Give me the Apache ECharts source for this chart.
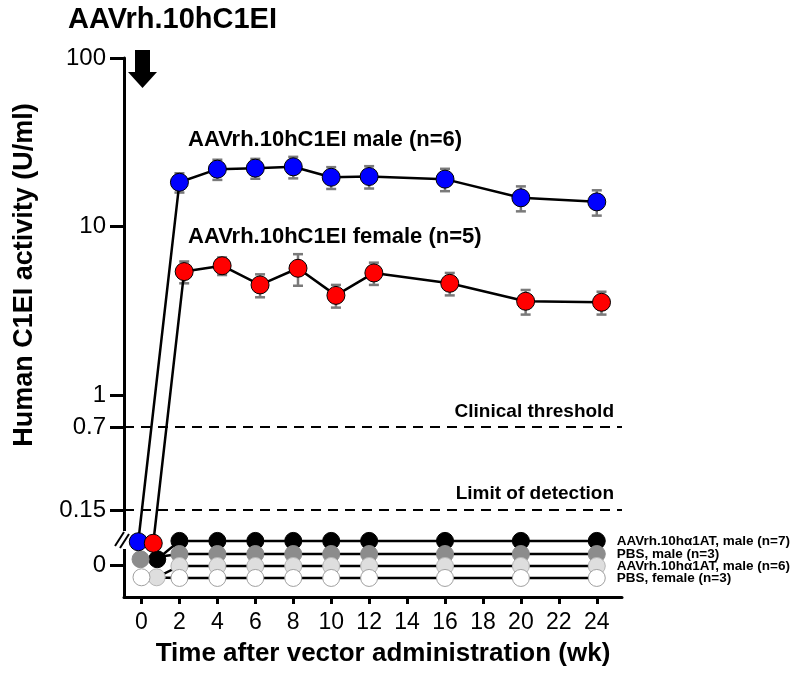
<!DOCTYPE html>
<html>
<head>
    <meta charset="utf-8">
    <title>AAVrh.10hC1EI</title>
    <script src="https://cdn.jsdelivr.net/npm/echarts@6/dist/echarts.min.js"></script>
</head>
<body style="margin:0">
    <div id="main" style="width:800px;height:675px"></div>
    <script type="text/javascript">
        // data (U/ml, mean and SEM)
        var weeks = [0, 2, 4, 6, 8, 10, 12, 16, 20, 24];
        var maleC1EI = [0, 18.3, 21.9, 22.2, 22.6, 19.6, 19.8, 19.1, 14.8, 14.0];
        var maleSem = [0, 2.4, 3.0, 3.0, 3.3, 2.9, 3.0, 2.9, 2.5, 2.4];
        var femaleC1EI = [0, 5.4, 5.85, 4.5, 5.65, 3.9, 5.3, 4.6, 3.6, 3.55];
        var femaleSem = [0, 0.8, 0.7, 0.7, 1.2, 0.6, 0.8, 0.7, 0.6, 0.55];
        var a1atMale7 = [0, 0, 0, 0, 0, 0, 0, 0, 0, 0];
        var pbsMale3 = [0, 0, 0, 0, 0, 0, 0, 0, 0, 0];
        var a1atMale6 = [0, 0, 0, 0, 0, 0, 0, 0, 0, 0];
        var pbsFemale3 = [0, 0, 0, 0, 0, 0, 0, 0, 0, 0];
        var yTickValues = [100, 10, 1, 0.7, 0.15, 0];
        var xTickValues = [0, 2, 4, 6, 8, 10, 12, 14, 16, 18, 20, 22, 24];
        var clinicalThreshold = 0.7;
        var detectionLimit = 0.15;

        var FONT = '"Liberation Sans", Arial, Helvetica, sans-serif';

        // y axis: log10 above 1, compressed below 1, then a broken "0" band
        var belowOne = [[1, 0], [0.7, -0.19], [0.15, -0.682]];
        var zeroTick = -1.009;
        function toAxis(v, zeroRow) {
            if (v === 0) return zeroRow;
            if (v >= 1) return Math.log10(v);
            for (var i = 0; i < belowOne.length - 1; i++) {
                var a = belowOne[i], b = belowOne[i + 1];
                if (v <= a[0] && v >= b[0]) {
                    var t = (Math.log10(a[0]) - Math.log10(v)) / (Math.log10(a[0]) - Math.log10(b[0]));
                    return a[1] + t * (b[1] - a[1]);
                }
            }
            return belowOne[belowOne.length - 1][1];
        }
        var yTickAxis = yTickValues.map(function (v) { return toAxis(v, zeroTick); });

        var myChart = echarts.init(document.getElementById('main'));

        function mainPoints(values, shift, jitter0, row0) {
            return weeks.map(function (w, i) {
                return [w + (i === 0 ? jitter0 : shift), toAxis(values[i], row0)];
            });
        }
        function errPoints(values, sem, shift) {
            var out = [];
            weeks.forEach(function (w, i) {
                if (values[i] > 0) {
                    out.push([w + shift, toAxis(values[i] - sem[i]), toAxis(values[i] + sem[i])]);
                }
            });
            return out;
        }

        var zeroGroups = [
            { name: 'AAVrh.10h\u03b11AT, male (n=7)', data: a1atMale7, color: '#000000', border: '#000000', row: -0.866, row0: -0.975, jitter0: 0.83 },
            { name: 'PBS, male (n=3)', data: pbsMale3, color: '#8c8c8c', border: '#8c8c8c', row: -0.944, row0: -0.975, jitter0: -0.05 },
            { name: 'AAVrh.10h\u03b11AT, male (n=6)', data: a1atMale6, color: '#dedede', border: '#b5b5b5', row: -1.015, row0: -1.082, jitter0: 0.8 },
            { name: 'PBS, female (n=3)', data: pbsFemale3, color: '#ffffff', border: '#a0a0a0', row: -1.086, row0: -1.082, jitter0: 0.0 }
        ];

        function errorBarSeries(data) {
            return {
                type: 'custom',
                z: 1,
                silent: true,
                encode: { x: 0, y: [1, 2] },
                data: data,
                renderItem: function (params, api) {
                    var lo = api.coord([api.value(0), api.value(1)]);
                    var hi = api.coord([api.value(0), api.value(2)]);
                    var c = 5;
                    var st = { stroke: '#7a7a7a', lineWidth: 2.5 };
                    return {
                        type: 'group',
                        children: [
                            { type: 'line', shape: { x1: lo[0], y1: lo[1], x2: hi[0], y2: hi[1] }, style: st },
                            { type: 'line', shape: { x1: lo[0] - c, y1: lo[1], x2: lo[0] + c, y2: lo[1] }, style: st },
                            { type: 'line', shape: { x1: hi[0] - c, y1: hi[1], x2: hi[0] + c, y2: hi[1] }, style: st }
                        ]
                    };
                }
            };
        }

        var series = [];
        zeroGroups.forEach(function (g) {
            series.push({
                name: g.name,
                type: 'line',
                data: weeks.map(function (w, i) {
                    return [w + (i === 0 ? g.jitter0 : 0), toAxis(g.data[i], i === 0 ? g.row0 : g.row)];
                }),
                symbol: 'circle',
                symbolSize: 17,
                lineStyle: { color: '#000', width: 2.5 },
                itemStyle: { color: g.color, borderColor: g.border, borderWidth: 1 },
                endLabel: {
                    show: true,
                    formatter: g.name,
                    distance: 20,
                    fontFamily: FONT,
                    fontSize: 13.5,
                    fontWeight: 'bold',
                    color: '#000'
                }
            });
        });

        series.push(errorBarSeries(errPoints(maleC1EI, maleSem, 0)));
        series.push(errorBarSeries(errPoints(femaleC1EI, femaleSem, 0.25)));

        series.push({
            name: 'AAVrh.10hC1EI male (n=6)',
            type: 'line',
            data: mainPoints(maleC1EI, 0, -0.17, -0.871),
            symbol: 'circle',
            symbolSize: 18,
            lineStyle: { color: '#000', width: 2.5 },
            itemStyle: { color: '#0000ff', borderColor: '#000', borderWidth: 1 },
            markLine: {
                silent: true,
                symbol: 'none',
                lineStyle: { color: '#000', type: [10, 7], width: 2 },
                label: {
                    position: 'insideEndTop',
                    distance: [8, 6],
                    fontFamily: FONT,
                    fontSize: 19,
                    fontWeight: 'bold',
                    color: '#000'
                },
                data: [
                    { yAxis: toAxis(clinicalThreshold), label: { formatter: 'Clinical threshold' } },
                    { yAxis: toAxis(detectionLimit), label: { formatter: 'Limit of detection' } }
                ]
            }
        });
        series.push({
            name: 'AAVrh.10hC1EI female (n=5)',
            type: 'line',
            data: mainPoints(femaleC1EI, 0.25, 0.62, -0.88),
            symbol: 'circle',
            symbolSize: 18,
            lineStyle: { color: '#000', width: 2.5 },
            itemStyle: { color: '#ff0000', borderColor: '#000', borderWidth: 1 }
        });

        var option = {
            animation: false,
            backgroundColor: '#fff',
            textStyle: { fontFamily: FONT },
            grid: { left: 124, right: 178, top: 58, bottom: 78 },
            xAxis: {
                type: 'value',
                min: -0.922,
                max: 25.33,
                splitLine: { show: false },
                axisLine: { onZero: false, lineStyle: { color: '#000', width: 3 } },
                axisTick: { customValues: xTickValues, length: 7, lineStyle: { color: '#000', width: 3 } },
                axisLabel: { customValues: xTickValues, margin: 14, fontSize: 23, color: '#000', fontFamily: FONT }
            },
            yAxis: {
                type: 'value',
                min: -1.199,
                max: 2,
                splitLine: { show: false },
                axisLine: { show: true, onZero: false, lineStyle: { color: '#000', width: 3 } },
                axisTick: { show: true, customValues: yTickAxis, length: 14, lineStyle: { color: '#000', width: 3 } },
                axisLabel: {
                    customValues: yTickAxis,
                    margin: 18,
                    fontSize: 24,
                    color: '#000',
                    fontFamily: FONT,
                    formatter: function (val) {
                        var best = 0;
                        yTickAxis.forEach(function (u, i) {
                            if (Math.abs(u - val) < Math.abs(yTickAxis[best] - val)) best = i;
                        });
                        return String(yTickValues[best]);
                    }
                }
            },
            graphic: [
                { type: 'text', left: 68, top: 5, style: { text: 'AAVrh.10hC1EI', font: 'bold 29px ' + FONT, fill: '#000' } },
                { type: 'text', x: 188, y: 140, style: { text: 'AAVrh.10hC1EI male (n=6)', font: 'bold 22px ' + FONT, fill: '#000', verticalAlign: 'middle' } },
                { type: 'text', x: 188, y: 237, style: { text: 'AAVrh.10hC1EI female (n=5)', font: 'bold 22px ' + FONT, fill: '#000', verticalAlign: 'middle' } },
                { type: 'text', x: 383, y: 654, style: { text: 'Time after vector administration (wk)', font: 'bold 26px ' + FONT, fill: '#000', align: 'center', verticalAlign: 'middle' } },
                { type: 'text', x: 25, y: 275, rotation: Math.PI / 2, style: { text: 'Human C1EI activity (U/ml)', font: 'bold 27px ' + FONT, fill: '#000', align: 'center', verticalAlign: 'middle' } },
                // dosing arrow
                { type: 'polygon', z: 20, shape: { points: [[135, 50], [150, 50], [150, 72], [157, 72], [142.5, 88], [128, 72], [135, 72]] }, style: { fill: '#000' } },
                // axis break
                { type: 'rect', z: 20, shape: { x: 118, y: 531, width: 9, height: 18 }, style: { fill: '#fff' } },
                { type: 'line', z: 21, shape: { x1: 115, y1: 546, x2: 124, y2: 532 }, style: { stroke: '#000', lineWidth: 2 } },
                { type: 'line', z: 21, shape: { x1: 120, y1: 548, x2: 129, y2: 534 }, style: { stroke: '#000', lineWidth: 2 } }
            ],
            series: series
        };

        myChart.setOption(option);
    </script>
</body>
</html>
